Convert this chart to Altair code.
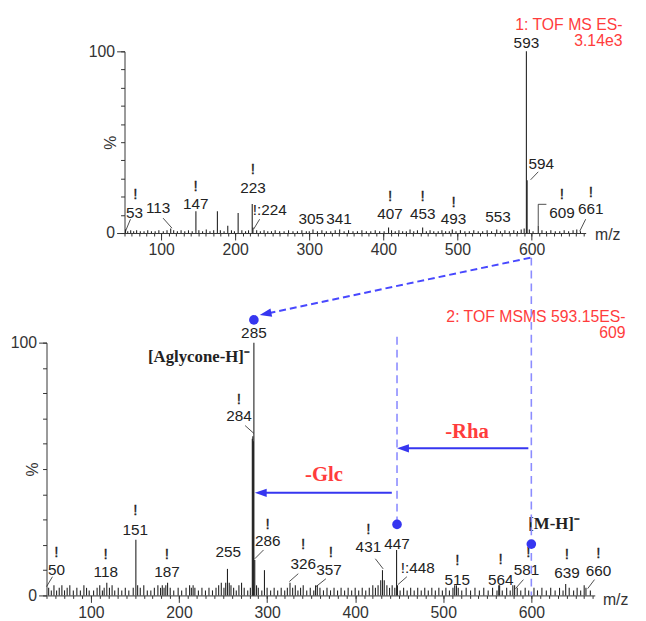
import altair as alt
import pandas as pd

W, H = 638, 613

# ---------------- top spectrum : 1: TOF MS ES- ----------------
top_mz = [52, 55, 59, 63, 67, 72, 77, 82, 87, 92,
          97, 103, 108, 113, 117, 122, 127, 132, 137, 142,
          147, 151, 156, 161, 166, 171, 176, 180, 185, 190,
          195, 199, 204, 209, 214, 218, 223, 224, 229, 234,
          239, 244, 249, 254, 260, 266, 272, 278, 284, 290,
          296, 300, 305, 311, 317, 323, 329, 335, 341, 347,
          353, 359, 365, 371, 377, 383, 389, 395, 401, 407,
          411, 416, 421, 426, 431, 436, 441, 446, 453, 458,
          463, 468, 474, 479, 484, 489, 493, 498, 504, 510,
          516, 522, 528, 534, 540, 546, 553, 558, 564, 570,
          576, 581, 586, 590, 593, 594, 597, 602, 609, 614,
          620, 626, 632, 638, 644, 650, 656, 661, 666]
top_int = [2, 1, 1.5, 1, 1.5, 1, 1, 1.5, 1, 1,
           1.5, 1, 1.5, 2.5, 1.5, 1, 1.5, 1, 1.5, 1,
           12, 1.5, 1, 2, 1, 1.5, 12, 1.5, 1, 4,
           1.5, 1, 11, 1.5, 1, 1.5, 16, 3, 1.5, 1,
           1.5, 1, 1, 1.5, 1, 1, 1.5, 1, 1, 1.5,
           1, 1, 2, 1, 1.5, 1, 1, 1.5, 2, 1,
           1.5, 1, 1, 1.5, 1, 1, 1.5, 1, 1, 3,
           1.5, 1, 1.5, 1, 1, 2, 1, 1.5, 3, 1,
           1.5, 1, 1, 1.5, 1, 1, 2, 1, 1.5, 1,
           1, 1.5, 1, 1, 1.5, 1, 2, 1, 1.5, 1,
           1.5, 1, 2, 2.5, 100, 29, 2, 1, 4, 1.5,
           1, 1.5, 1, 1, 1.5, 1, 1.5, 2, 1]

top_lab_text = ["53", "113", "147", "223", "!:224", "305", "341", "407",
                "453", "493", "553", "593", "594", "609", "661"]
top_lab_mz = [64, 96, 146.7, 224, 246.7, 302.7, 340, 409,
              453, 494.7, 554.7, 593, 613, 641, 680]
top_lab_y = [10.9, 13.6, 15.8, 24.5, 12.5, 7.6, 7.6, 10.3,
             10.3, 7.6, 8.7, 104.3, 38, 10.9, 13]

top_bang_mz = [65.3, 146.7, 224, 409, 453, 494.7, 641, 680]
top_bang_y = [21.2, 26.1, 35.3, 20.1, 20.1, 16.8, 21.2, 22.8]

top_lead_x1 = [58.7, 102.7, 233, 609, 609, 609, 673]
top_lead_y1 = [7.6, 8.2, 7.6, 33.7, 4, 15.8, 7.6]
top_lead_x2 = [52, 114.7, 225, 598.7, 609, 620, 665]
top_lead_y2 = [1, 2.7, 2.2, 29.3, 15.8, 15.8, 1]

top_red_text = ["1: TOF MS ES-", "3.14e3"]
top_red_mz = [722.7, 722.7]
top_red_y = [114.7, 105.4]

# ---------------- bottom spectrum : 2: TOF MSMS 593.15ES- ----------------
bot_mz = [52, 55, 58, 61, 64, 67, 70, 73, 76, 80,
          84, 88, 92, 95, 98, 103, 107, 110, 113, 115,
          118, 121, 124, 127, 131, 135, 139, 143, 148, 151,
          153, 156, 160, 164, 168, 172, 176, 179, 181, 183,
          185, 187, 190, 194, 199, 203, 208, 212, 214, 216,
          218, 222, 226, 230, 234, 238, 242, 245, 248, 251,
          253, 255, 257, 259, 262, 265, 268, 271, 274, 278,
          281, 283.2, 283.8, 284.4, 285, 286, 288, 290, 294, 297,
          300, 304, 308, 312, 316, 320, 323, 326, 329, 332,
          335, 338, 341, 345, 349, 353, 355, 357, 360, 364,
          368, 372, 376, 380, 384, 388, 392, 396, 400, 404,
          408, 412, 416, 420, 423, 426, 429, 431, 433, 436,
          439, 442, 445, 447, 448, 451, 455, 459, 463, 467,
          471, 475, 479, 483, 487, 491, 495, 499, 503, 507,
          511, 513, 515, 517, 521, 526, 531, 536, 541, 546,
          551, 556, 561, 563, 564, 567, 572, 576, 579, 581,
          584, 588, 593, 597, 603, 607, 612, 617, 622, 627,
          632, 636, 639, 643, 648, 652, 656, 660, 662, 667]
bot_int = [3, 2, 4, 2, 3, 4, 2, 3, 4, 2,
           3, 2, 4, 3, 2, 2, 3, 4, 2, 3,
           5, 3, 4, 2, 3, 2, 3, 2, 3, 22,
           4, 3, 4, 2, 2, 3, 4, 3, 4, 3,
           4, 5, 3, 2, 3, 2, 3, 4, 3, 4,
           3, 2, 3, 2, 3, 2, 3, 4, 5, 3,
           5, 10.5, 5, 4, 3, 2, 4, 5, 3, 2,
           3, 62, 63, 61, 100, 14, 4, 3, 2, 10,
           3, 2, 3, 2, 3, 2, 3, 5, 3, 4,
           2, 3, 4, 2, 3, 2, 4, 4, 3, 2,
           3, 2, 3, 2, 3, 2, 3, 2, 3, 2,
           3, 2, 3, 4, 3, 4, 6, 10, 6, 4,
           3, 4, 3, 18, 4, 2, 3, 2, 3, 2,
           3, 2, 3, 2, 3, 2, 3, 2, 3, 2,
           3, 4, 4, 3, 2, 3, 2, 3, 2, 3,
           2, 3, 2, 4, 4, 2, 3, 2, 4, 4,
           3, 2, 3, 2, 3, 2, 3, 2, 3, 2,
           3, 2, 4.5, 3, 2, 3, 2, 4, 3, 2]

bot_lab_text = ["285", "284", "286", "151", "50", "118", "187", "255", "326",
                "357", "431", "447", "!:448", "515", "564", "581", "639", "660"]
bot_lab_mz = [285, 268, 300.7, 150.4, 60.8, 116.8, 186.3, 255.8, 341,
              370.2, 415, 447.5, 471, 515.9, 565.2, 594.4, 640.4, 676.2]
bot_lab_y = [103.9, 71.1, 21.5, 25.8, 10.2, 9.4, 9.4, 17.2, 12.5,
             10.2, 19.1, 20.3, 10.9, 6.25, 6.25, 10.2, 9, 9.8]

bot_bang_mz = [268, 300.7, 150.4, 60.8, 116.8, 186.3, 341, 372.4, 415,
               515.9, 565.2, 596.6, 640.4, 676.2]
bot_bang_y = [77.7, 28.1, 33.6, 17.2, 16.4, 16.4, 20.3, 17.2, 26.2,
              14.1, 14.5, 17.2, 16.4, 16.8]

bot_lead_x1 = [275, 296, 56.3, 335.4, 366.8, 422.9, 458.7, 591, 671.7]
bot_lead_y1 = [67.2, 18, 7.4, 8.6, 6.6, 14.5, 7.4, 6.25, 6.25]
bot_lead_x2 = [285, 286, 49.6, 325.3, 355.6, 431.8, 448.6, 582, 664]
bot_lead_y2 = [64.1, 14.5, 3.5, 5.5, 3.5, 10.5, 4.3, 2.7, 2.7]

ion_text = ["[Aglycone-H]⁻", "[M-H]⁻"]
ion_mz = [280.5, 625.8]
ion_y = [94.1, 28.1]

loss_text = ["-Glc", "-Rha"]
loss_mz = [364.6, 527]
loss_y = [47.5, 64.6]

bot_red_text = ["2: TOF MSMS 593.15ES-", "609"]
bot_red_mz = [707, 707]
bot_red_y = [110.2, 103.9]

dot_mz = [285, 447.5, 600]
dot_y = [109, 28.1, 20.3]

vdash_x1 = [447.5, 600]
vdash_y1 = [102.3, 133.6]
vdash_x2 = [447.5, 600]
vdash_y2 = [28.1, 0]

diag_x1 = [598.9]
diag_y1 = [133.6]
diag_x2 = [298.2]
diag_y2 = [111.4]

arrow_x1 = [441.6, 596.6]
arrow_y1 = [40.6, 58.2]
arrow_x2 = [292.8, 454.3]
arrow_y2 = [40.6, 58.2]

head_mz = [292.8, 454.3, 298.2]
head_y = [40.6, 58.2, 111.4]
head_angle = [180, 180, 168]

major_x = [100, 200, 300, 400, 500, 600]
minor_x = list(range(50, 671, 10))
major_y = [0, 100]
minor_y = list(range(0, 101, 10))

# ---------------- styles ----------------
SANS = "Liberation Sans"
SERIF = "Liberation Serif"
INK = "#222222"
AX = "#333333"
RED = "#ff3c3c"
BLUE = "#3636f0"
LBLUE = "#8c8cff"
MBLUE = "#4848ff"

xs_top = alt.Scale(domain=[50, 673], range=[117.5, 585.0], nice=False, zero=False)
ys_top = alt.Scale(domain=[0, 100], range=[224, 40], nice=False, zero=False)
xs_bot = alt.Scale(domain=[50, 672], range=[39.4, 594.2], nice=False, zero=False)
ys_bot = alt.Scale(domain=[0, 100], range=[591, 335], nice=False, zero=False)


def major_axes(xs, ys, xoff, yoff, title_x, title_y, lpad, ty):
    df = pd.DataFrame({"mz": [100], "y": [0]})
    xa = alt.Axis(
        orient="bottom", offset=xoff, values=major_x, tickSize=7,
        labelFont=SANS, labelFontSize=16, labelColor=AX, labelPadding=lpad,
        labelOverlap=False, labelFlush=False, grid=False,
        domainColor=AX, tickColor=AX, format="d",
        title="m/z", titleX=title_x, titleY=ty, titleAlign="left",
        titleBaseline="middle", titleAngle=0, titleFont=SANS, titleFontSize=16,
        titleFontWeight="normal", titleColor=AX)
    ya = alt.Axis(
        orient="left", offset=yoff, values=major_y, tickSize=8,
        labelFont=SANS, labelFontSize=16, labelColor=AX, labelPadding=2,
        labelOverlap=False, labelFlush=False, grid=False,
        domainColor=AX, tickColor=AX, format="d",
        title="%", titleX=-14, titleY=title_y, titleAngle=270,
        titleAlign="center", titleBaseline="middle", titleFont=SANS,
        titleFontSize=16, titleFontWeight="normal", titleColor=AX)
    return alt.Chart(df).mark_point(opacity=0).encode(
        x=alt.X("mz:Q", scale=xs, axis=xa),
        y=alt.Y("y:Q", scale=ys, axis=ya))


def minor_axes(xs, ys, xoff, yoff):
    df = pd.DataFrame({"mz": [100], "y": [0]})
    xa = alt.Axis(orient="bottom", offset=xoff, values=minor_x, tickSize=3,
                  labels=False, domain=False, grid=False, title=None, tickColor=AX)
    ya = alt.Axis(orient="left", offset=yoff, values=minor_y, tickSize=4,
                  labels=False, domain=False, grid=False, title=None, tickColor=AX)
    return alt.Chart(df).mark_point(opacity=0).encode(
        x=alt.X("mz:Q", scale=xs, axis=xa),
        y=alt.Y("y:Q", scale=ys, axis=ya))


def sticks(mz, inten, xs, ys):
    df = pd.DataFrame({"mz": mz, "y": inten, "y0": [0] * len(mz)})
    return alt.Chart(df).mark_rule(color=INK, strokeWidth=1.1).encode(
        x=alt.X("mz:Q", scale=xs, axis=None),
        y=alt.Y("y:Q", scale=ys, axis=None),
        y2="y0:Q")


def texts(mz, y, txt, xs, ys, **kw):
    df = pd.DataFrame({"mz": mz, "y": y, "t": txt})
    return alt.Chart(df).mark_text(**kw).encode(
        x=alt.X("mz:Q", scale=xs, axis=None),
        y=alt.Y("y:Q", scale=ys, axis=None),
        text="t:N")


def segs(x1, y1, x2, y2, xs, ys, **kw):
    df = pd.DataFrame({"mz": x1, "y": y1, "mz2": x2, "y2": y2})
    return alt.Chart(df).mark_rule(**kw).encode(
        x=alt.X("mz:Q", scale=xs, axis=None),
        y=alt.Y("y:Q", scale=ys, axis=None),
        x2="mz2:Q", y2="y2:Q")


lab_kw = dict(font=SANS, fontSize=15.5, color=INK, align="center", baseline="middle")
bang_kw = dict(font=SANS, fontSize=15.5, fill=INK, stroke=INK, strokeWidth=0.3,
               align="center", baseline="middle")
red_kw = dict(font=SANS, fontSize=16, color=RED, align="right", baseline="middle")

top = alt.layer(
    sticks(top_mz, top_int, xs_top, ys_top),
    segs(top_lead_x1, top_lead_y1, top_lead_x2, top_lead_y2, xs_top, ys_top,
         color=INK, strokeWidth=0.8),
    texts(top_lab_mz, top_lab_y, top_lab_text, xs_top, ys_top, **lab_kw),
    texts(top_bang_mz, top_bang_y, ["!"] * len(top_bang_mz), xs_top, ys_top, **bang_kw),
    texts(top_red_mz, top_red_y, top_red_text, xs_top, ys_top, **red_kw),
)

heads_df = pd.DataFrame({"mz": head_mz, "y": head_y, "a": head_angle})
heads = alt.Chart(heads_df).mark_point(
    shape="M1,0 L-1,-0.7 L-1,0.7 Z", filled=True, size=144, color=BLUE, opacity=1
).encode(
    x=alt.X("mz:Q", scale=xs_bot, axis=None),
    y=alt.Y("y:Q", scale=ys_bot, axis=None),
    angle=alt.Angle("a:Q", scale=None))

dots_df = pd.DataFrame({"mz": dot_mz, "y": dot_y})
dots = alt.Chart(dots_df).mark_point(
    shape="circle", filled=True, size=95, color=BLUE, opacity=1
).encode(
    x=alt.X("mz:Q", scale=xs_bot, axis=None),
    y=alt.Y("y:Q", scale=ys_bot, axis=None))

bottom = alt.layer(
    sticks(bot_mz, bot_int, xs_bot, ys_bot),
    segs(bot_lead_x1, bot_lead_y1, bot_lead_x2, bot_lead_y2, xs_bot, ys_bot,
         color=INK, strokeWidth=0.8),
    texts(bot_lab_mz, bot_lab_y, bot_lab_text, xs_bot, ys_bot, **lab_kw),
    texts(bot_bang_mz, bot_bang_y, ["!"] * len(bot_bang_mz), xs_bot, ys_bot, **bang_kw),
    texts(bot_red_mz, bot_red_y, bot_red_text, xs_bot, ys_bot, **red_kw),
    texts([ion_mz[0]], [ion_y[0]], [ion_text[0]], xs_bot, ys_bot, font=SERIF,
          fontSize=17, fontWeight="bold", color=INK, align="right", baseline="middle"),
    texts([ion_mz[1]], [ion_y[1]], [ion_text[1]], xs_bot, ys_bot, font=SERIF,
          fontSize=17, fontWeight="bold", color=INK, align="center", baseline="middle"),
    texts(loss_mz, loss_y, loss_text, xs_bot, ys_bot, font=SERIF, fontSize=21,
          fontWeight="bold", color=RED, align="center", baseline="middle"),
    segs(vdash_x1, vdash_y1, vdash_x2, vdash_y2, xs_bot, ys_bot,
         color=LBLUE, strokeWidth=1.6, strokeDash=[8, 5]),
    segs(diag_x1, diag_y1, diag_x2, diag_y2, xs_bot, ys_bot,
         color=MBLUE, strokeWidth=2, strokeDash=[7, 4]),
    segs(arrow_x1, arrow_y1, arrow_x2, arrow_y2, xs_bot, ys_bot,
         color=BLUE, strokeWidth=2),
    heads,
    dots,
)

chart = alt.layer(
    top,
    major_axes(xs_top, ys_top, 224 - H, -118, 594, 132, 2, 2),
    minor_axes(xs_top, ys_top, 224 - H, -118),
    bottom,
    major_axes(xs_bot, ys_bot, 591 - H, -39, 602, 463, 2, 4),
    minor_axes(xs_bot, ys_bot, 591 - H, -39),
).resolve_scale(
    x="independent", y="independent"
).properties(
    width=W, height=H, padding=0,
    autosize=alt.AutoSizeParams(type="none"),
    background="white",
).configure_view(stroke=None)

chart.save("out.html", embed_options={"renderer": "svg", "actions": False})
